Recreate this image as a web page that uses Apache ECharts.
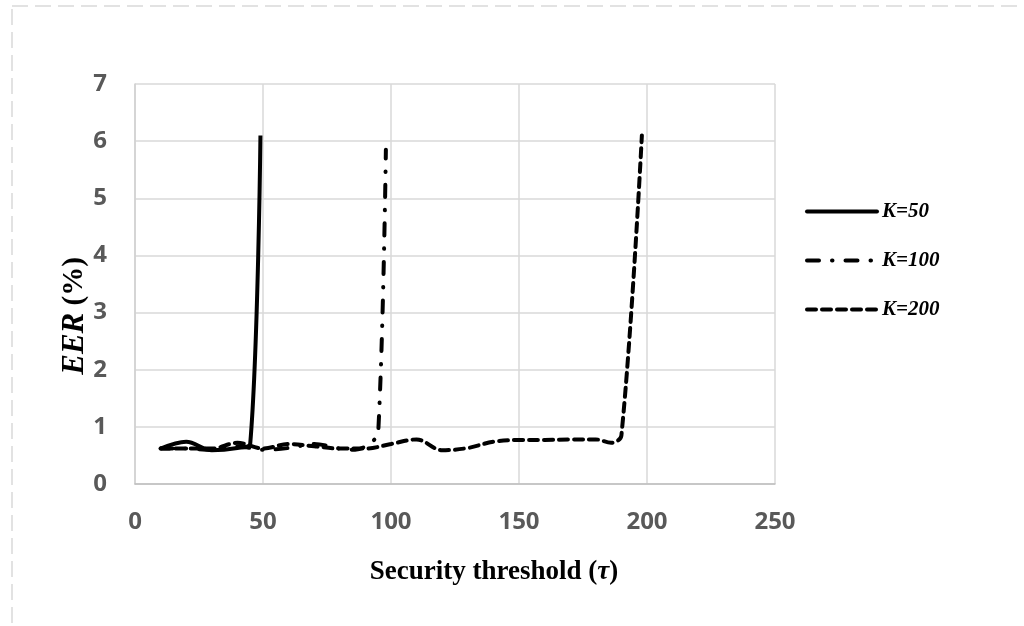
<!DOCTYPE html>
<html>
<head>
<meta charset="utf-8">
<script src="https://cdn.jsdelivr.net/npm/echarts@6/dist/echarts.min.js"></script>
<style>
  html, body { margin: 0; padding: 0; background: #fff; }
  #chart { width: 1024px; height: 626px; }
</style>
</head>
<body>
<div id="chart"></div>
<script>
const seriesNames = ['K=50', 'K=100', 'K=200']

const k50X = [10, 20, 30, 40, 45, 49]
const k50Y = [0.62, 0.74, 0.59, 0.63, 0.7, 6.1]

const k100X = [10, 20, 30, 40, 50, 60, 70, 80, 86, 92, 95, 98]
const k100Y = [0.62, 0.62, 0.6, 0.66, 0.6, 0.63, 0.7, 0.62, 0.6, 0.72, 0.9, 5.85]

const k200X = [10, 20, 30, 40, 50, 60, 70, 80, 90, 100, 110, 120, 130, 140, 150, 160, 170, 180, 186, 190, 198]
const k200Y = [0.62, 0.62, 0.62, 0.72, 0.62, 0.7, 0.66, 0.62, 0.62, 0.7, 0.78, 0.59, 0.63, 0.74, 0.77, 0.77, 0.78, 0.78, 0.72, 0.85, 6.1]

const xTicks = [0, 50, 100, 150, 200, 250]
const yTicks = [0, 1, 2, 3, 4, 5, 6, 7]

function pairs(xs, ys) {
  return xs.map((x, i) => [x, ys[i]])
}

const chart = echarts.init(document.getElementById('chart'))

const tickLabel = {
  color: '#595959',
  fontFamily: 'Open Sans',
  fontWeight: 'bold',
  fontSize: 24
}

chart.setOption({
  animation: false,
  grid: {
    left: 135,
    right: 249,
    top: 84,
    bottom: 142
  },
  legend: {
    orient: 'vertical',
    left: 800,
    top: 196,
    itemWidth: 70,
    itemHeight: 14,
    itemGap: 28,
    data: seriesNames,
    itemStyle: { color: 'rgba(0,0,0,0)', borderWidth: 0 },
    lineStyle: { width: 4, cap: 'round' },
    textStyle: {
      color: '#000',
      fontFamily: 'Liberation Serif',
      fontStyle: 'italic',
      fontWeight: 'bold',
      fontSize: 21
    }
  },
  xAxis: {
    type: 'value',
    min: xTicks[0],
    max: xTicks[xTicks.length - 1],
    interval: 50,
    axisLine: { show: true, lineStyle: { color: '#bfbfbf', width: 1.5 } },
    axisTick: { show: false },
    axisLabel: Object.assign({ margin: 26 }, tickLabel),
    splitLine: { lineStyle: { color: '#d9d9d9', width: 1.5 } }
  },
  yAxis: {
    type: 'value',
    min: yTicks[0],
    max: yTicks[yTicks.length - 1],
    interval: 1,
    axisLine: { show: true, lineStyle: { color: '#d0d0d0', width: 1.5 } },
    axisTick: { show: false },
    axisLabel: Object.assign({ margin: 28 }, tickLabel),
    splitLine: { lineStyle: { color: '#d9d9d9', width: 1.5 } }
  },
  graphic: [
    {
      type: 'rect',
      silent: true,
      shape: { x: 12, y: 6, width: 1040, height: 660 },
      style: { fill: 'none', stroke: '#d9d9d9', lineWidth: 1.5, lineDash: [16, 7] }
    },
    {
      type: 'text',
      x: 75,
      y: 316,
      rotation: Math.PI / 2,
      style: {
        text: '{i|EER} (%)',
        fill: '#000',
        font: 'bold 29px "Liberation Serif"',
        align: 'center',
        verticalAlign: 'middle',
        rich: {
          i: { fontStyle: 'italic', fontWeight: 'bold', fontSize: 31, fontFamily: 'Liberation Serif' }
        }
      }
    },
    {
      type: 'text',
      x: 494,
      y: 572,
      style: {
        text: 'Security threshold ({i|τ})',
        fill: '#000',
        font: 'bold 27px "Liberation Serif"',
        align: 'center',
        verticalAlign: 'middle',
        rich: {
          i: { fontStyle: 'italic', fontWeight: 'bold', fontSize: 27, fontFamily: 'Liberation Serif' }
        }
      }
    }
  ],
  series: [
    {
      name: seriesNames[0],
      type: 'line',
      smooth: 0.35,
      symbol: 'none',
      data: pairs(k50X, k50Y),
      lineStyle: { color: '#000', width: 4, type: 'solid' },
      itemStyle: { color: '#000' }
    },
    {
      name: seriesNames[1],
      type: 'line',
      smooth: 0.35,
      symbol: 'none',
      data: pairs(k100X, k100Y),
      lineStyle: { color: '#000', width: 4, type: [12, 13, 0.5, 13], cap: 'round' },
      itemStyle: { color: '#000' }
    },
    {
      name: seriesNames[2],
      type: 'line',
      smooth: 0.35,
      symbol: 'none',
      data: pairs(k200X, k200Y),
      lineStyle: { color: '#000', width: 4, type: [9, 6], cap: 'round' },
      itemStyle: { color: '#000' }
    }
  ]
})
</script>
</body>
</html>
